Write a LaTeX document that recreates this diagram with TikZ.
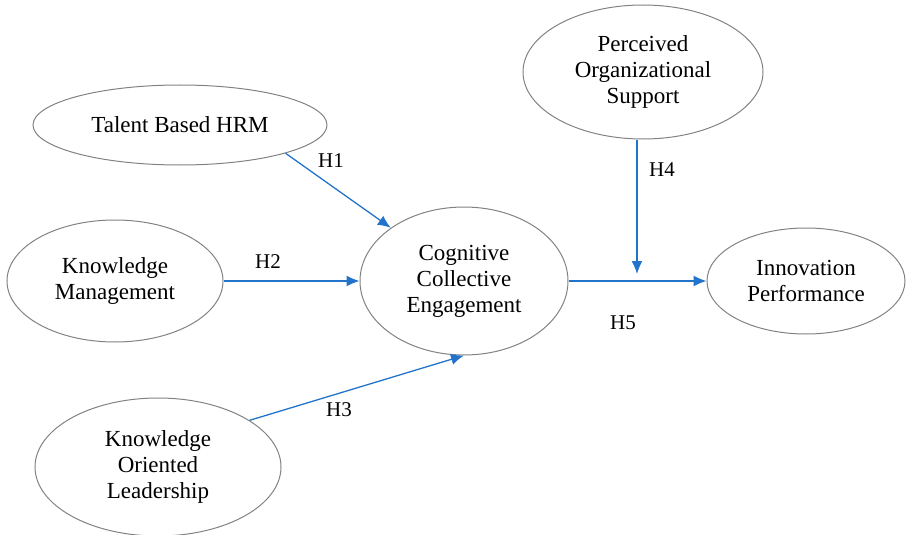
\documentclass[tikz,border=0pt]{standalone}
\usepackage{fontspec}
\setmainfont{Liberation Serif}
\usetikzlibrary{shapes.geometric,arrows.meta}
\definecolor{hblue}{RGB}{34,116,202}
\definecolor{egray}{RGB}{130,130,130}
\begin{document}
\begin{tikzpicture}[x=1pt,y=-1pt,
	construct/.style={ellipse,draw=egray,line width=1pt,inner sep=0pt,align=center,font=\rmfamily\fontsize{23}{26}\selectfont},
	hpath/.style={hblue,line width=1.3pt,-{Latex[length=13pt,width=11pt]}},
	hyp/.style={font=\rmfamily\fontsize{21}{24}\selectfont}]
	\useasboundingbox (0,0) rectangle (906,535);
	% constructs
	\node[construct,minimum width=294pt,minimum height=80pt] (thrm) at (180,125) {Talent Based HRM};
	\node[construct,minimum width=216pt,minimum height=122pt] (km) at (115,281) {Knowledge\\Management};
	\node[construct,minimum width=246pt,minimum height=138pt] (kol) at (158,467) {Knowledge\\Oriented\\Leadership};
	\node[construct,minimum width=208pt,minimum height=148pt] (cce) at (464,281) {Cognitive\\Collective\\Engagement};
	\node[construct,minimum width=240pt,minimum height=134pt] (pos) at (643,72) {Perceived\\Organizational\\Support};
	\node[construct,minimum width=198pt,minimum height=106pt] (ip) at (806,281) {Innovation\\Performance};
	% hypotheses
	\draw[hpath] (thrm.-15) -- (cce.144);
	\draw[hpath] (km.east) -- (km.east -| cce.west);
	\draw[hpath] (kol.27) -- (cce.south);
	\draw[hpath] (cce.east) -- (cce.east -| ip.west);
	\coordinate (h4end) at (637,274);
	\draw[hpath] (pos.south -| h4end) -- (h4end);
	\node[hyp] (h1) at (331,161) {H1};
	\node[hyp] (h2) at (268,262) {H2};
	\node[hyp] (h3) at (339,410) {H3};
	\node[hyp] (h4) at (662,170) {H4};
	\node[hyp] (h5) at (623,323) {H5};
\end{tikzpicture}
\end{document}
